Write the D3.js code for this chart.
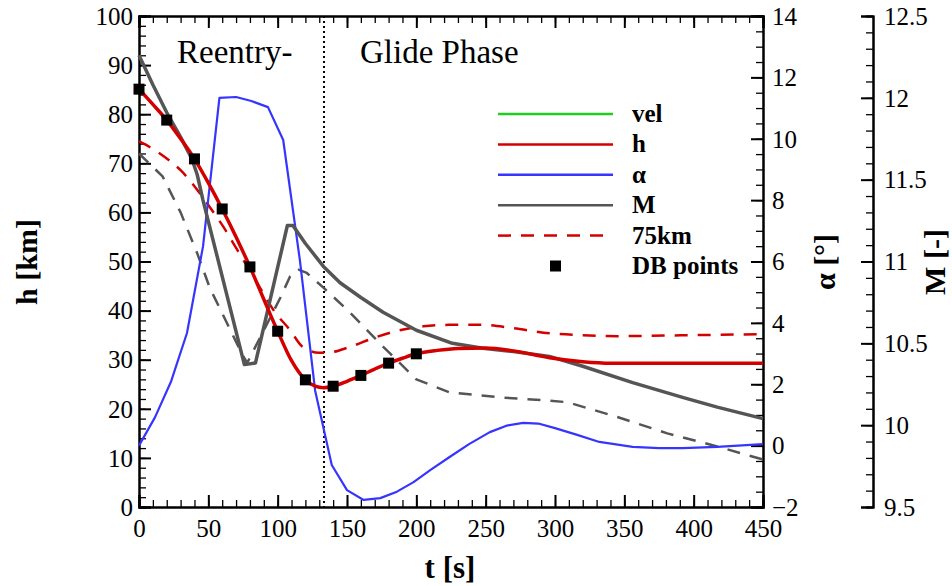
<!DOCTYPE html>
<html>
<head>
<meta charset="utf-8">
<script src="https://cdn.jsdelivr.net/npm/d3@7"></script>
<style>
  body { margin: 0; background: #fff; }
  svg, svg text { font-family: "Liberation Serif", "Times New Roman", serif; }
</style>
</head>
<body>
<svg id="chart" width="952" height="586"></svg>
<script>
// altitude h [km] of the nominal trajectory
var hT = [0, 10, 20, 30, 40, 50, 60, 70, 80, 90, 100, 110, 120, 127, 133, 140, 150, 160, 170, 180, 190, 200, 215, 230, 250, 270, 296, 320, 340, 400, 450];
var hV = [85.1, 82, 78.8, 75, 70.9, 66, 60.7, 55, 48.9, 42.3, 35.8, 29.8, 25.9, 24.6, 24.3, 24.6, 25.6, 26.8, 28.1, 29.3, 30.3, 31.2, 31.9, 32.3, 32.4, 31.8, 30.4, 29.6, 29.3, 29.3, 29.3];

// altitude of the 75km case
var h75T = [0, 15, 30, 51, 61, 71, 87, 97, 109, 118, 130, 135, 152, 170, 188, 205, 224, 248, 270, 296, 320, 345, 400, 450];
var h75V = [74.5, 72, 68.6, 61.1, 57, 52.3, 44.8, 40.1, 36, 32.6, 31.4, 31.4, 32.6, 34.5, 36, 36.8, 37.1, 37.1, 36.4, 35.4, 35, 34.8, 35, 35.2];

// angle of attack alpha [deg]
var aT = [0, 11.6, 23.2, 34.6, 46.2, 58, 70, 81, 93, 104, 116, 127, 139, 150, 162, 174, 186, 198, 210, 224, 238, 253, 265, 277, 288, 300, 316, 332, 356, 375, 392, 417, 450];
var aV = [0, 0.93, 2.1, 3.67, 6.5, 11.33, 11.36, 11.23, 11.03, 9.96, 6.05, 1.8, -0.63, -1.45, -1.77, -1.71, -1.5, -1.19, -0.8, -0.37, 0.05, 0.44, 0.65, 0.74, 0.72, 0.57, 0.35, 0.12, -0.04, -0.08, -0.08, -0.04, 0.05];

// Mach number, nominal
var mT = [0, 10, 20, 30, 38, 42, 46, 76, 84, 107, 111, 120, 133, 145, 160, 176, 200, 226, 248, 270, 296, 320, 356, 392, 417, 450];
var mV = [12.26, 12.08, 11.91, 11.76, 11.63, 11.53, 11.38, 10.37, 10.38, 11.22, 11.22, 11.11, 10.97, 10.87, 10.78, 10.69, 10.58, 10.5, 10.47, 10.45, 10.42, 10.36, 10.26, 10.17, 10.11, 10.04];

// Mach number, 75km case
var m75T = [0, 17, 30, 42, 51, 74, 78, 102, 109, 115, 121, 133, 152, 176, 200, 224, 260, 296, 309, 345, 381, 417, 450];
var m75V = [11.66, 11.52, 11.3, 11.05, 10.84, 10.44, 10.38, 10.78, 10.91, 10.95, 10.93, 10.84, 10.69, 10.48, 10.28, 10.2, 10.17, 10.15, 10.14, 10.05, 9.95, 9.87, 9.79];

// database points
var dbT = [0, 20, 40, 60, 80, 100, 120, 140, 160, 180, 200];
var dbH = [85.1, 78.8, 70.9, 60.7, 48.9, 35.8, 25.9, 24.6, 26.8, 29.3, 31.2];

var phaseT = 133.4;

var legendNames = ['vel', 'h', '\u03b1', 'M', '75km', 'DB points'];

var FONT = '"Liberation Serif", "Times New Roman", serif';
var svg = d3.select('#chart');

var x0 = 139, x1 = 763, yTop = 16, yBot = 507;
var x = d3.scaleLinear().domain([0, 450]).range([x0, x1]);
var yH = d3.scaleLinear().domain([0, 100]).range([yBot, yTop]);
var yA = d3.scaleLinear().domain([-2, 14]).range([yBot, yTop]);
var yM = d3.scaleLinear().domain([9.5, 12.5]).range([yBot, yTop]);

function zip(ts, vs) { return ts.map(function(t, i) { return [t, vs[i]]; }); }

function styleAxis(g, major) {
  g.attr('font-family', FONT).attr('font-size', 25);
  g.select('.domain').attr('stroke', '#000').attr('stroke-width', 2);
  g.selectAll('.tick line').attr('stroke', '#000').attr('stroke-width', major ? 2 : 1.3);
}

// minor ticks first, then major
function minorAxis(axisFn, scale, step, tf) {
  var dom = scale.domain();
  var vals = d3.range(Math.round(dom[0] / step), Math.round(dom[1] / step) + 1).map(function(i) { return +(i * step).toFixed(4); });
  var g = svg.append('g').attr('transform', tf)
    .call(axisFn(scale).tickValues(vals).tickSize(7).tickFormat(''));
  styleAxis(g, false);
  return g;
}

// bottom x axis
minorAxis(d3.axisTop, x, 10, 'translate(0,' + yBot + ')');
var gx = svg.append('g').attr('transform', 'translate(0,' + yBot + ')')
  .call(d3.axisTop(x).tickValues(d3.range(0, 451, 50)).tickSize(12).tickFormat(d3.format('d')));
styleAxis(gx, true);
gx.selectAll('.tick text').attr('y', 30).attr('dy', 0);

// top axis
minorAxis(d3.axisBottom, x, 10, 'translate(0,' + yTop + ')');
var gxt = svg.append('g').attr('transform', 'translate(0,' + yTop + ')')
  .call(d3.axisBottom(x).tickValues(d3.range(0, 451, 50)).tickSize(12).tickFormat(''));
styleAxis(gxt, true);

// left h axis
minorAxis(d3.axisRight, yH, 2, 'translate(' + x0 + ',0)');
var gh = svg.append('g').attr('transform', 'translate(' + x0 + ',0)')
  .call(d3.axisRight(yH).tickValues(d3.range(0, 101, 10)).tickSize(12).tickFormat(d3.format('d')));
styleAxis(gh, true);
gh.selectAll('.tick text').attr('x', -6).attr('text-anchor', 'end').attr('dy', '0.33em');

// right alpha axis
minorAxis(d3.axisLeft, yA, 0.5, 'translate(' + x1 + ',0)');
var ga = svg.append('g').attr('transform', 'translate(' + x1 + ',0)')
  .call(d3.axisLeft(yA).tickValues(d3.range(-2, 15, 2)).tickSize(12).tickFormat(d3.format('d')));
styleAxis(ga, true);
ga.selectAll('.tick text').attr('x', 9).attr('text-anchor', 'start').attr('dy', '0.33em');

// far right Mach axis
var xM = 873;
minorAxis(d3.axisLeft, yM, 0.1, 'translate(' + xM + ',0)');
var gm = svg.append('g').attr('transform', 'translate(' + xM + ',0)')
  .call(d3.axisLeft(yM).tickValues(d3.range(9.5, 12.51, 0.5)).tickSize(12).tickFormat(d3.format('~g')));
styleAxis(gm, true);
gm.selectAll('.tick text').attr('x', 11).attr('text-anchor', 'start').attr('dy', '0.33em');

svg.selectAll('.tick text').attr('fill', '#000');

// axis titles
function title(tf, txt, size) {
  return svg.append('text').attr('transform', tf)
    .attr('text-anchor', 'middle').attr('font-family', FONT)
    .attr('font-size', size).attr('font-weight', 'bold').text(txt);
}
title('translate(37,262) rotate(-90)', 'h [km]', 30);
title('translate(835,262) rotate(-90)', '\u03b1 [\u00b0]', 30);
title('translate(945,262) rotate(-90)', 'M [-]', 30);
title('translate(450,578)', 't [s]', 31);

// phase labels and separator
svg.append('text').attr('x', 177).attr('y', 63).attr('font-family', FONT).attr('font-size', 33).text('Reentry-');
svg.append('text').attr('x', 360).attr('y', 63).attr('font-family', FONT).attr('font-size', 33).text('Glide Phase');
svg.append('line')
  .attr('x1', x(phaseT)).attr('x2', x(phaseT)).attr('y1', yTop).attr('y2', yBot)
  .attr('stroke', '#000').attr('stroke-width', 2).attr('stroke-dasharray', '2,3');

var plot = svg.append('g');

function drawLine(data, yScale, color, width, dash, curve) {
  var line = d3.line()
    .x(function(d) { return x(d[0]); })
    .y(function(d) { return yScale(d[1]); })
    .curve(curve || d3.curveMonotoneX);
  plot.append('path').datum(data)
    .attr('d', line)
    .attr('fill', 'none')
    .attr('stroke', color)
    .attr('stroke-width', width)
    .attr('stroke-dasharray', dash || null)
    .attr('stroke-linejoin', 'round');
}

var red = '#d40000', blue = '#3535ff', gray = '#555555', green = '#22cc22';

drawLine(zip(m75T, m75V), yM, gray, 2.5, '13,10', d3.curveLinear);
drawLine(zip(h75T, h75V), yH, red, 2.5, '13,10');
drawLine(zip(aT, aV), yA, blue, 2.2, null, d3.curveLinear);
drawLine(zip(mT, mV), yM, gray, 3.5, null, d3.curveLinear);
drawLine(zip(hT, hV), yH, red, 3.5);

plot.selectAll('rect.db').data(zip(dbT, dbH)).enter().append('rect')
  .attr('class', 'db')
  .attr('x', function(d) { return x(d[0]) - 5.5; })
  .attr('y', function(d) { return yH(d[1]) - 5.5; })
  .attr('width', 11).attr('height', 11).attr('fill', '#000');

// legend
var legendStyle = [
  { color: green, dash: null },
  { color: red, dash: null },
  { color: blue, dash: null },
  { color: gray, dash: null },
  { color: red, dash: '13,10' },
  { marker: true }
];
var legend = svg.append('g');
legendNames.forEach(function(name, i) {
  var ly = 114 + i * 30.4;
  var s = legendStyle[i];
  if (s.marker) {
    legend.append('rect').attr('x', 550).attr('y', ly - 5.5).attr('width', 11).attr('height', 11).attr('fill', '#000');
  } else {
    legend.append('line').attr('x1', 498).attr('x2', 613).attr('y1', ly).attr('y2', ly)
      .attr('stroke', s.color).attr('stroke-width', 2.5).attr('stroke-dasharray', s.dash);
  }
  legend.append('text').attr('x', 632).attr('y', ly + 8).attr('font-family', FONT)
    .attr('font-size', 25).attr('font-weight', 'bold').text(name);
});
</script>
</body>
</html>
